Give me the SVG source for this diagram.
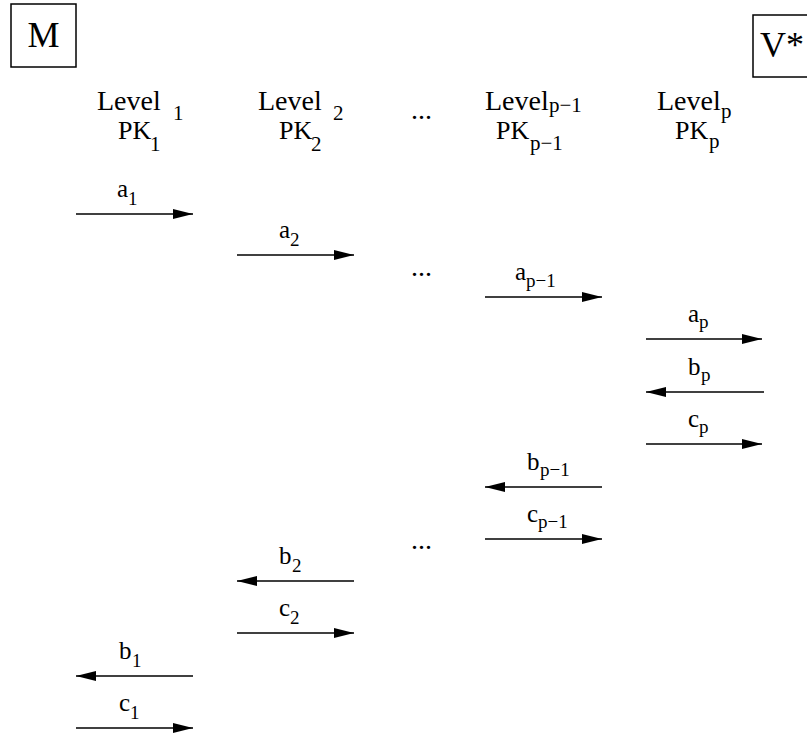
<svg xmlns="http://www.w3.org/2000/svg" width="807" height="737" viewBox="0 0 807 737">
<defs>
<marker id="ah" markerWidth="20" markerHeight="10" refX="20" refY="5" orient="auto" markerUnits="userSpaceOnUse">
<path d="M0,0 L20,5 L0,10 Z" fill="#000"/>
</marker>
<style>
text{font-family:"Liberation Serif","Times New Roman",serif;fill:#000}
.big{font-size:36px}
.lv{font-size:28px}
.pk{font-size:26px}
.lb{font-size:25px}
.sub{font-size:19px}
.lsub{font-size:21px}
.box{fill:#fff;stroke:#000;stroke-width:1.5}
.ar{stroke:#000;stroke-width:1.5;fill:none;marker-end:url(#ah)}
</style>
</defs>
<rect width="807" height="737" fill="#fff"/>
<g id="M">
<rect class="box" x="11" y="4" width="65" height="63"/>
<text class="big" x="43.5" y="47" text-anchor="middle">M</text>
</g>
<g id="V">
<rect class="box" x="753" y="15" width="65" height="62"/>
<text class="big" x="760" y="57">V*</text>
</g>
<g id="level1">
<text class="lv" x="97" y="110">Level</text>
<text class="lsub" x="173" y="120">1</text>
<text class="pk" x="118" y="139">PK</text>
<text class="lsub" x="150" y="151">1</text>
</g>
<g id="level2">
<text class="lv" x="258" y="110">Level</text>
<text class="lsub" x="333" y="120">2</text>
<text class="pk" x="279" y="139">PK</text>
<text class="lsub" x="311" y="151">2</text>
</g>
<g id="dots">
<text class="lv" x="411" y="119">...</text>
<text class="lv" x="411" y="276">...</text>
<text class="lv" x="411" y="549">...</text>
</g>
<g id="levelp1">
<text class="lv" x="485" y="110">Level</text>
<text class="lsub" x="549" y="112">p−1</text>
<text class="pk" x="496" y="139">PK</text>
<text class="lsub" x="530" y="150">p−1</text>
</g>
<g id="levelp">
<text class="lv" x="657" y="110">Level</text>
<text class="lsub" x="721" y="118">p</text>
<text class="pk" x="675" y="139">PK</text>
<text class="lsub" x="709" y="148">p</text>
</g>
<g id="connectors">
<line class="ar" x1="76" y1="214" x2="193" y2="214"/>
<line class="ar" x1="237" y1="255" x2="354" y2="255"/>
<line class="ar" x1="485" y1="297" x2="602" y2="297"/>
<line class="ar" x1="646" y1="339" x2="762" y2="339"/>
<line class="ar" x1="764" y1="392" x2="646" y2="392"/>
<line class="ar" x1="646" y1="444" x2="762" y2="444"/>
<line class="ar" x1="602" y1="487" x2="485" y2="487"/>
<line class="ar" x1="485" y1="539" x2="602" y2="539"/>
<line class="ar" x1="354" y1="581" x2="237" y2="581"/>
<line class="ar" x1="237" y1="633" x2="354" y2="633"/>
<line class="ar" x1="193" y1="676" x2="76" y2="676"/>
<line class="ar" x1="76" y1="728" x2="193" y2="728"/>
</g>
<g id="labels">
<text class="lb" x="117" y="197">a</text><text class="sub" x="128" y="205">1</text>
<text class="lb" x="279" y="238">a</text><text class="sub" x="290" y="246">2</text>
<text class="lb" x="515" y="280">a</text><text class="sub" x="526" y="287">p−1</text>
<text class="lb" x="688" y="322">a</text><text class="sub" x="699" y="328">p</text>
<text class="lb" x="688" y="375">b</text><text class="sub" x="701" y="381">p</text>
<text class="lb" x="688" y="427">c</text><text class="sub" x="699" y="433">p</text>
<text class="lb" x="527" y="470">b</text><text class="sub" x="540" y="476">p−1</text>
<text class="lb" x="527" y="522">c</text><text class="sub" x="538" y="528">p−1</text>
<text class="lb" x="279" y="564">b</text><text class="sub" x="292" y="572">2</text>
<text class="lb" x="279" y="616">c</text><text class="sub" x="290" y="624">2</text>
<text class="lb" x="119" y="659">b</text><text class="sub" x="132" y="667">1</text>
<text class="lb" x="119" y="711">c</text><text class="sub" x="130" y="719">1</text>
</g>
</svg>
